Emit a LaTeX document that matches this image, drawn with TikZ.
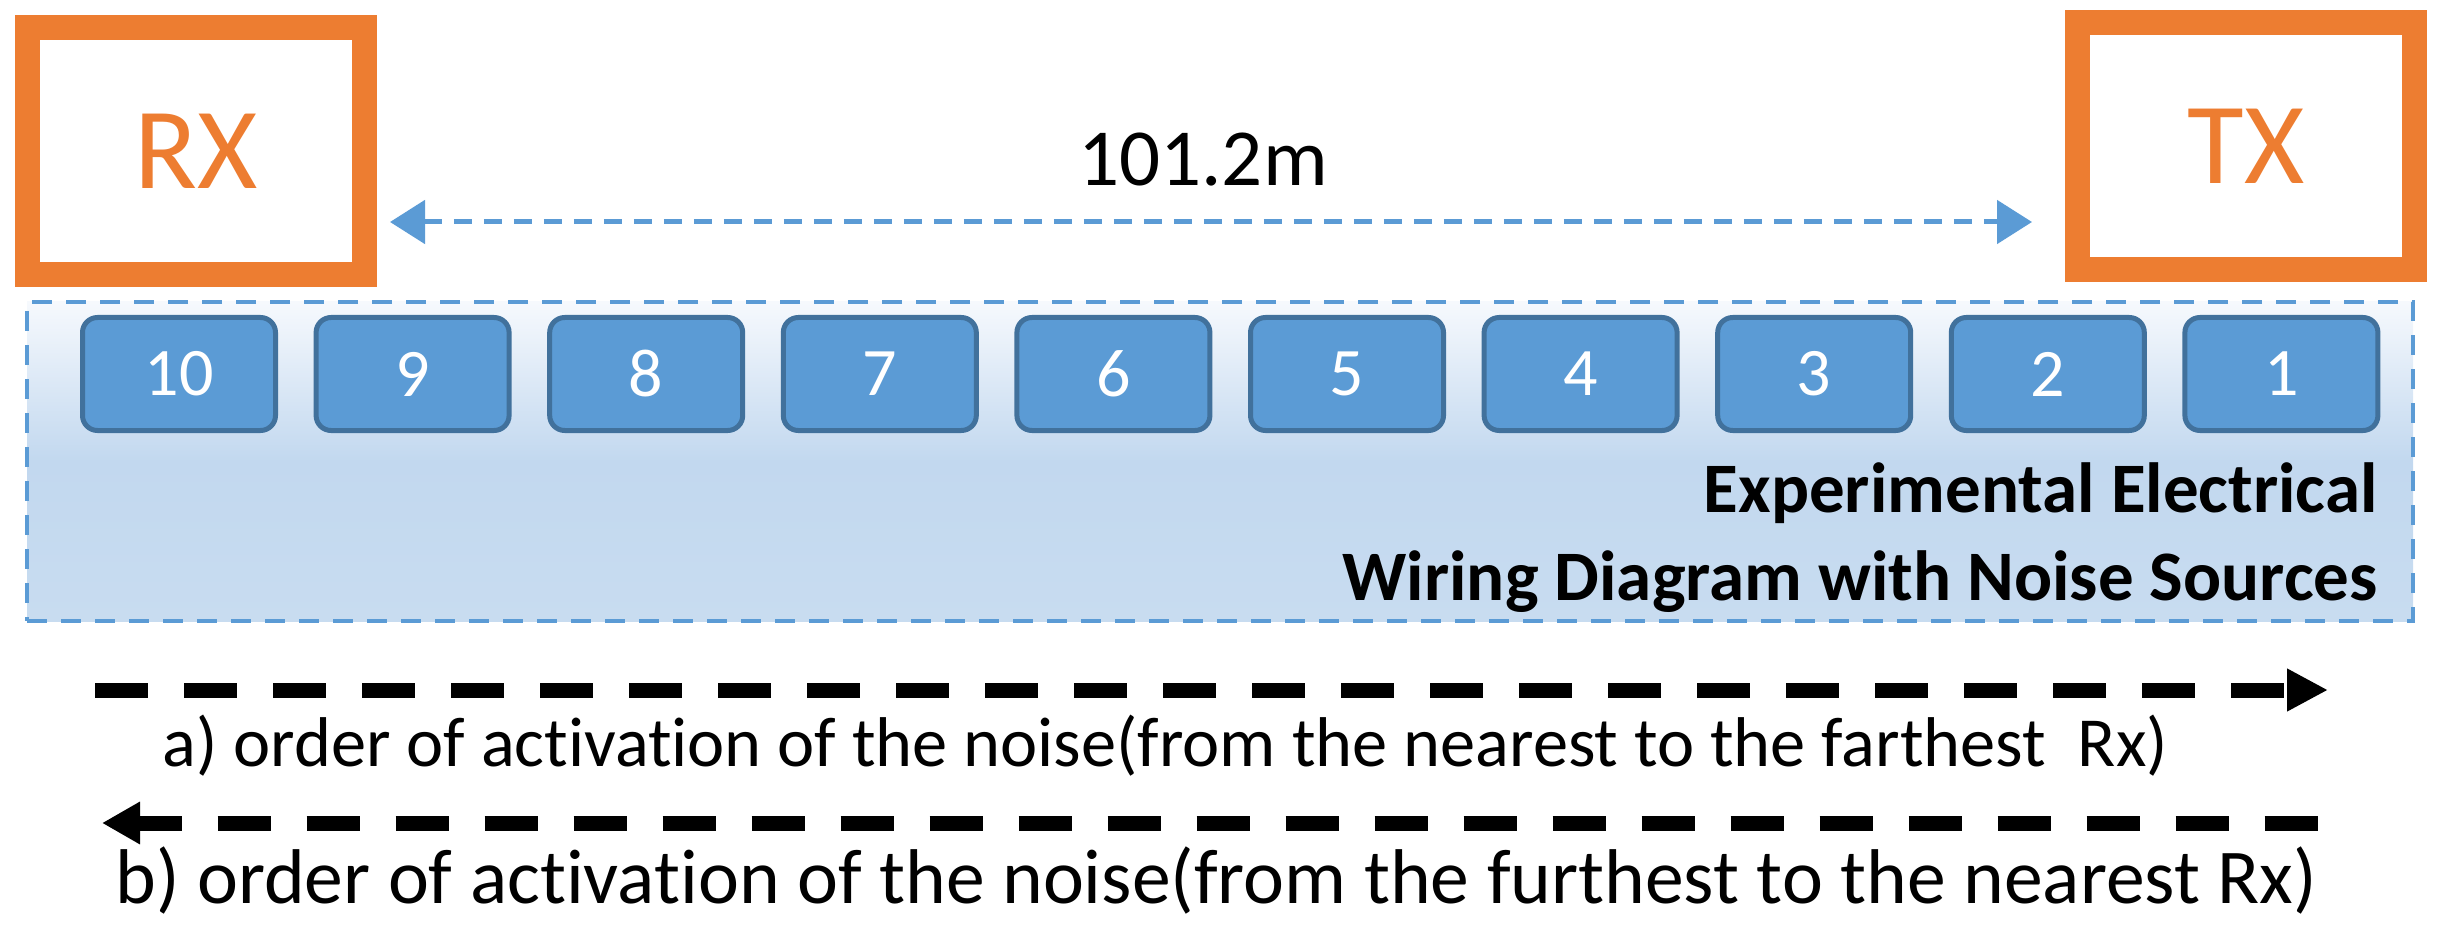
\documentclass[tikz,border=0pt]{standalone}
\usepackage{fontspec}
\setmainfont{Carlito}[RawFeature={-liga;-calt;-clig}]
\usetikzlibrary{arrows.meta}
\definecolor{orangeO}{HTML}{ED7D31}
\definecolor{blueF}{HTML}{5B9BD5}
\definecolor{blueD}{HTML}{41719C}
\definecolor{panelTop}{HTML}{F6F9FD}
\definecolor{panelMid}{HTML}{C2D8EF}
\definecolor{panelBot}{HTML}{C8DCF0}
\newcommand{\noligti}{t\kern0pt i}
\begin{document}
\begin{tikzpicture}[x=0.5pt,y=-0.5pt,
  endbox/.style={draw=orangeO, line width=12.5pt, fill=white,
    minimum width=168.5pt, minimum height=123.5pt, inner sep=0pt,
    text=orangeO, font=\fontsize{58}{60}\selectfont},
  srcbox/.style={draw=blueD, fill=blueF, line width=2.5pt,
    rounded corners=7.5pt, minimum width=96.5pt, minimum height=56.5pt,
    inner sep=0pt, text=white, font=\fontsize{34}{36}\selectfont},
  panelbox/.style={draw=blueF, line width=2pt, dash pattern=on 10pt off 7pt,
    top color=panelTop, bottom color=panelBot, middle color=panelMid,
    minimum width=1193pt, minimum height=159.5pt, inner sep=0pt},
  titletext/.style={inner sep=0pt, font=\fontsize{35.5}{40}\selectfont\bfseries},
  ordertext/.style={inner sep=0pt},
  dimline/.style={draw=blueF, line width=2.5pt, dash pattern=on 9pt off 6pt,
    {Triangle[length=17.5pt,width=21.5pt]}-{Triangle[length=17.5pt,width=21.5pt]}},
  orderline/.style={draw=black, line width=7.5pt, dash pattern=on 26.5pt off 18pt}
]
\useasboundingbox (0,0) rectangle (2440,935);

% panel
\node[panelbox] (panel) at (1220,461.5) {};

% RX / TX
\node[endbox] (rx) at (196,151) {RX};
\node[endbox] (tx) at (2246,146.5) {TX};

% distance
\coordinate (dimL) at (390,222);
\coordinate (dimR) at (2032,222);
\draw[dimline] (dimL) -- (dimR);
\node[inner sep=0pt, anchor=base, font=\fontsize{40.5}{44}\selectfont] (dist) at (1203,186) {101.2m};

% noise sources
\foreach \k [evaluate=\k as \xc using {179+(10-\k)*233.6}] in {10,9,...,1}{
  \node[srcbox] (s\k) at (\xc,374) {\k};
}

% title
\node[titletext, anchor=base east] (title1) at (2378,512) {Experimental Electrical};
\node[titletext, anchor=base east] (title2) at (2378,600) {Wiring Diagram with Noise Sources};

% order arrows
\coordinate (aL) at (95,690);
\coordinate (aR) at (2328,690);
\draw[orderline, -{Triangle[length=20.5pt,width=20pt]}] (aL) -- (aR);
\node[ordertext, anchor=base west, font=\fontsize{35.2}{40}\selectfont] (atext) at (162,766) {a) order of ac\noligti vation of the noise(from the nearest to the farthest\ \ Rx)};

\coordinate (bL) at (102,823);
\coordinate (bR) at (2338,823);
\draw[orderline, dash phase=4.5pt, {Triangle[length=19pt,width=20pt]}-] (bL) -- (bR);
\node[ordertext, anchor=base west, font=\fontsize{38.8}{42}\selectfont] (btext) at (115,903) {b) order of ac\noligti vation of the noise(from the furthest to the nearest Rx)};
\end{tikzpicture}
\end{document}
